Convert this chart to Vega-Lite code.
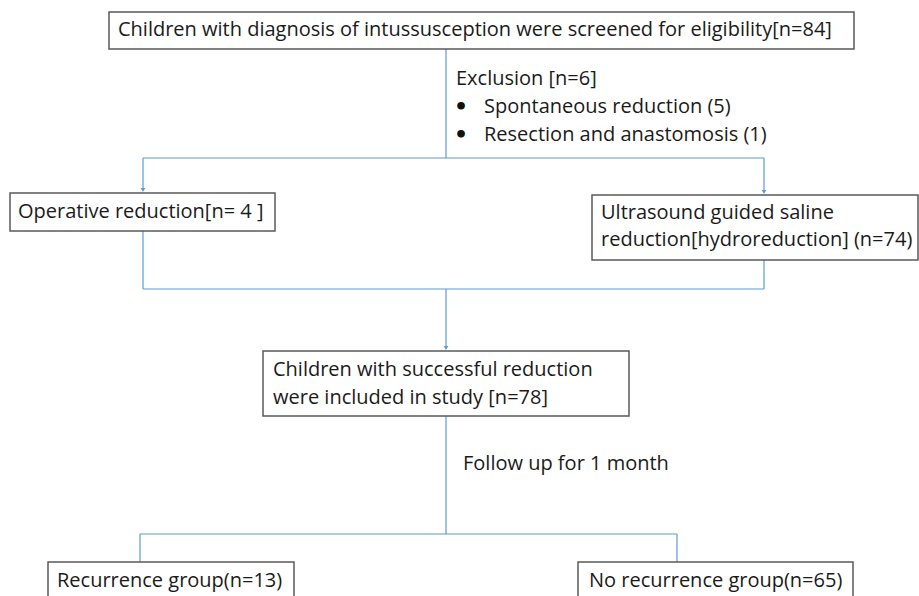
{
  "$schema": "https://vega.github.io/schema/vega-lite/v6.json",
  "width": 919,
  "height": 596,
  "padding": 0,
  "autosize": {"type": "fit", "contains": "padding"},
  "background": "white",
  "config": {"view": {"stroke": null}},
  "datasets": {
    "boxes": [
      {"node": "screened", "x": 109, "x2": 854, "y": 12, "y2": 49},
      {"node": "operative", "x": 10, "x2": 275, "y": 193, "y2": 231},
      {"node": "ultrasound", "x": 592, "x2": 918, "y": 195, "y2": 260},
      {"node": "included", "x": 263, "x2": 629, "y": 351, "y2": 416},
      {"node": "recurrence", "x": 48, "x2": 294, "y": 562, "y2": 610},
      {"node": "norecurrence", "x": 578, "x2": 853, "y": 562, "y2": 610}
    ],
    "links": [
      {"x": 446, "y": 49, "x2": 446, "y2": 158},
      {"x": 143, "y": 158, "x2": 764, "y2": 158},
      {"x": 143, "y": 158, "x2": 143, "y2": 190},
      {"x": 764, "y": 158, "x2": 764, "y2": 192},
      {"x": 143, "y": 231, "x2": 143, "y2": 289},
      {"x": 764, "y": 260, "x2": 764, "y2": 289},
      {"x": 143, "y": 289, "x2": 764, "y2": 289},
      {"x": 446, "y": 289, "x2": 446, "y2": 348},
      {"x": 446, "y": 416, "x2": 446, "y2": 534},
      {"x": 140, "y": 534, "x2": 677, "y2": 534},
      {"x": 140, "y": 534, "x2": 140, "y2": 562},
      {"x": 677, "y": 534, "x2": 677, "y2": 562}
    ],
    "arrows": [
      {"x": 143, "y": 190},
      {"x": 764, "y": 192},
      {"x": 446, "y": 348}
    ],
    "labels": [
      {"x": 118, "y": 30, "text": "Children with diagnosis of intussusception were screened for eligibility[n=84]"},
      {"x": 456, "y": 79, "text": "Exclusion [n=6]"},
      {"x": 454, "y": 107, "text": "•"},
      {"x": 484, "y": 107, "text": "Spontaneous reduction (5)"},
      {"x": 454, "y": 135, "text": "•"},
      {"x": 484, "y": 135, "text": "Resection and anastomosis (1)"},
      {"x": 18, "y": 212, "text": "Operative reduction[n= 4 ]"},
      {"x": 601, "y": 213, "text": "Ultrasound guided saline"},
      {"x": 601, "y": 240, "text": "reduction[hydroreduction] (n=74)"},
      {"x": 273, "y": 370, "text": "Children with successful reduction"},
      {"x": 273, "y": 398, "text": "were included in study [n=78]"},
      {"x": 463, "y": 464, "text": "Follow up for 1 month"},
      {"x": 57, "y": 581, "text": "Recurrence group(n=13)"},
      {"x": 589, "y": 581, "text": "No recurrence group(n=65)"}
    ]
  },
  "layer": [
    {
      "data": {"name": "links"},
      "mark": {"type": "rule", "color": "#5b9bd5", "strokeWidth": 1.2},
      "encoding": {
        "x": {"field": "x", "type": "quantitative", "scale": {"domain": [0, 919], "nice": false, "zero": false}, "axis": null},
        "y": {"field": "y", "type": "quantitative", "scale": {"domain": [0, 596], "nice": false, "zero": false, "reverse": true}, "axis": null},
        "x2": {"field": "x2"},
        "y2": {"field": "y2"}
      }
    },
    {
      "data": {"name": "arrows"},
      "mark": {"type": "point", "shape": "triangle-down", "filled": true, "color": "#5b9bd5", "size": 22, "opacity": 1},
      "encoding": {
        "x": {"field": "x", "type": "quantitative", "axis": null},
        "y": {"field": "y", "type": "quantitative", "axis": null}
      }
    },
    {
      "data": {"name": "boxes"},
      "mark": {"type": "rect", "fill": "white", "stroke": "#595959", "strokeWidth": 1.5, "clip": true},
      "encoding": {
        "x": {"field": "x", "type": "quantitative", "axis": null},
        "x2": {"field": "x2"},
        "y": {"field": "y", "type": "quantitative", "axis": null},
        "y2": {"field": "y2"}
      }
    },
    {
      "data": {"name": "labels"},
      "transform": [{"filter": "datum.text !== '•'"}],
      "mark": {"type": "text", "align": "left", "baseline": "middle", "font": "Open Sans", "fontSize": 20, "color": "#1a1a1a"},
      "encoding": {
        "x": {"field": "x", "type": "quantitative", "axis": null},
        "y": {"field": "y", "type": "quantitative", "axis": null},
        "text": {"field": "text"}
      }
    },
    {
      "data": {"name": "labels"},
      "transform": [{"filter": "datum.text === '•'"}],
      "mark": {"type": "text", "align": "left", "baseline": "middle", "font": "DejaVu Sans", "fontSize": 22, "fontWeight": "bold", "color": "#111111"},
      "encoding": {
        "x": {"field": "x", "type": "quantitative", "axis": null},
        "y": {"field": "y", "type": "quantitative", "axis": null},
        "text": {"field": "text"}
      }
    }
  ]
}
